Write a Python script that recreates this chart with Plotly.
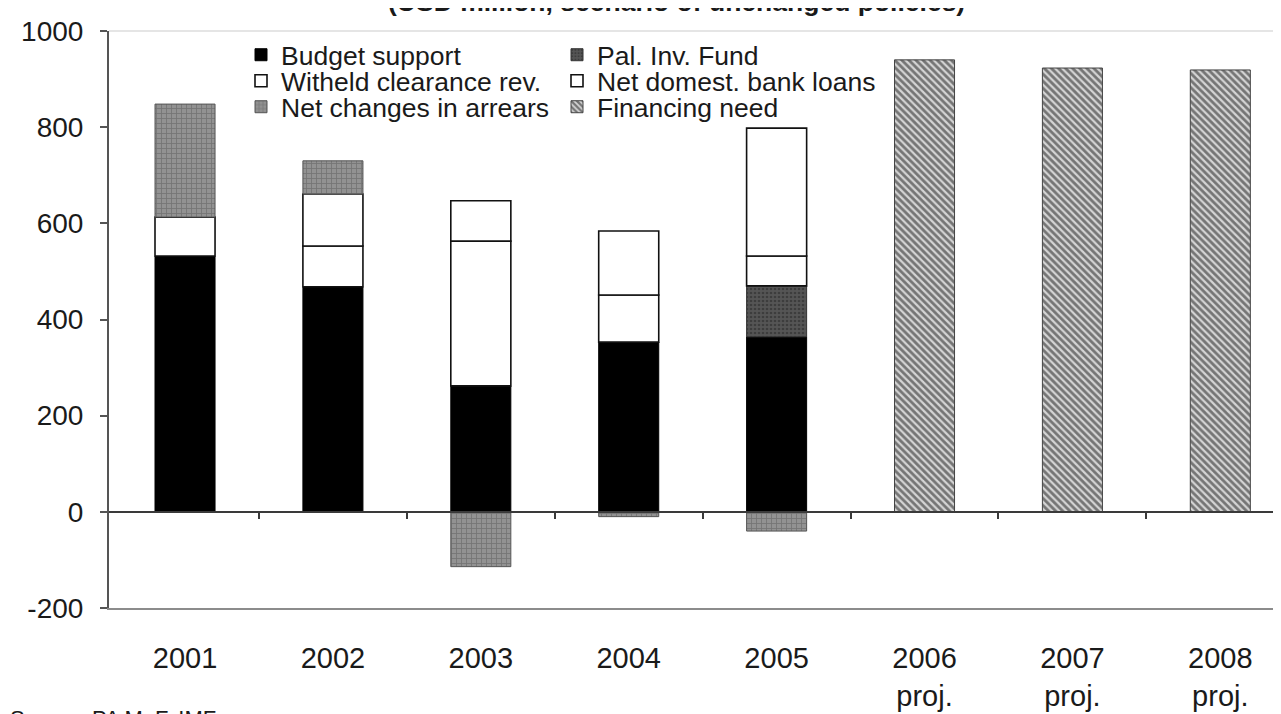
import plotly.graph_objects as go

# ---------------- data ----------------
years = ["2001", "2002", "2003", "2004", "2005", "2006", "2007", "2008"]
x_tick_labels = ["2001", "2002", "2003", "2004", "2005",
                 "2006<br>proj.", "2007<br>proj.", "2008<br>proj."]

budget_support = [532, 468, 262, 353, 364, None, None, None]
pal_inv_fund = [None, None, None, None, 106, None, None, None]
witheld_clearance = [81, 85, 301, 98, 62, None, None, None]
net_domest_loans = [None, 108, 84, 133, 266, None, None, None]
net_arrears = [235, 69, -114, -10, -40, None, None, None]
financing_need = [None, None, None, None, None, 940, 923, 919]

y_tick_values = [-200, 0, 200, 400, 600, 800, 1000]
y_tick_labels = ["-200", "0", "200", "400", "600", "800", "1000"]
boundary_ticks = [0.5, 1.5, 2.5, 3.5, 4.5, 5.5, 6.5]

title_text = "(USD million, scenario of unchanged policies)"
source_text = "Source: PA MoF, IMF"

FONT = "Liberation Sans, Arial, sans-serif"

fig = go.Figure()

series = [
    ("Budget support", budget_support, dict(color="#000000", line=dict(color="#000000", width=1)), "legend"),
    ("Pal. Inv. Fund", pal_inv_fund, dict(color="#555555",
                                          pattern=dict(shape=".", fgcolor="#262626", size=4, solidity=0.35),
                                          line=dict(color="#333333", width=1)), "legend4"),
    ("Witheld clearance rev.", witheld_clearance, dict(color="#ffffff", line=dict(color="#111111", width=1.6)), "legend2"),
    ("Net domest. bank loans", net_domest_loans, dict(color="#ffffff", line=dict(color="#111111", width=1.6)), "legend5"),
    ("Net changes in arrears", net_arrears, dict(color="#929292",
                                                 pattern=dict(shape="+", fgcolor="#555555", size=5, solidity=0.3),
                                                 line=dict(color="#555555", width=1)), "legend3"),
    ("Financing need", financing_need, dict(color="#d4d4d4",
                                            pattern=dict(shape="\\", fgcolor="#151515", size=5, solidity=0.55),
                                            line=dict(color="#444444", width=1)), "legend6"),
]

for name, vals, marker, leg in series:
    fig.add_trace(go.Bar(name=name, x=years, y=vals, marker=marker, legend=leg,
                         hoverinfo="name+y"))

# helper trace carrying the zero axis with category boundary ticks
fig.add_trace(go.Scatter(x=[0], y=[0], xaxis="x2", mode="markers",
                         marker=dict(opacity=0), showlegend=False, hoverinfo="skip"))

OFF = 8  # page body margin
W, H = 1281 - OFF, 714 - OFF
L, R, T = 109 - OFF, 0, 31 - OFF
B = H - (608 - OFF)
pw = W - L - R
ph = H - T - B
x_range = [-0.514, -0.514 + pw / 147.9]


def px_to_paper_x(px_page):
    return (px_page - OFF - L) / pw


def px_to_paper_y(py_page):
    return (H - B - (py_page - OFF)) / ph


legend_common = dict(font=dict(family=FONT, size=26.5, color="#1a1a1a"), bgcolor="rgba(0,0,0,0)",
                     borderwidth=0, xanchor="left", yanchor="middle", itemwidth=30,
                     tracegroupgap=0)
col_x = [px_to_paper_x(241), px_to_paper_x(557)]
row_y = [px_to_paper_y(55), px_to_paper_y(81), px_to_paper_y(107)]

layout_legends = {}
names = ["legend", "legend2", "legend3", "legend4", "legend5", "legend6"]
for i, nm in enumerate(names):
    col = i // 3
    row = i % 3
    layout_legends[nm] = dict(x=col_x[col], y=row_y[row], **legend_common)

fig.update_layout(
    width=W, height=H, autosize=False,
    margin=dict(l=L, r=R, t=T, b=B, pad=0),
    paper_bgcolor="white", plot_bgcolor="white",
    barmode="relative", bargap=0.594,
    font=dict(family=FONT, color="#1a1a1a"),
    showlegend=True,
    xaxis=dict(type="category", range=x_range, tickmode="array", tickvals=years,
               ticktext=x_tick_labels, ticks="", showline=True, linecolor="#8c8c8c",
               linewidth=2, showgrid=False, zeroline=False,
               tickfont=dict(family=FONT, size=29, color="#1a1a1a"),
               ticklabelstandoff=23),
    xaxis2=dict(overlaying="x", anchor="free", position=200 / 1200, range=x_range,
                type="linear", showline=True, linecolor="#3a3a3a", linewidth=1.6,
                ticks="outside", tickvals=boundary_ticks, ticklen=6, tickwidth=1.6,
                tickcolor="#3a3a3a", showticklabels=False, showgrid=False, zeroline=False),
    yaxis=dict(range=[-200, 1000], tickmode="array", tickvals=y_tick_values,
               ticktext=y_tick_labels, ticks="outside", ticklen=7, tickwidth=1.6,
               tickcolor="#555555", showline=True, linecolor="#555555", linewidth=2,
               showgrid=False, zeroline=False, ticklabelstandoff=11,
               tickfont=dict(family=FONT, size=28, color="#1a1a1a")),
    shapes=[dict(type="line", xref="paper", yref="paper", x0=0, x1=1, y0=1, y1=1,
                 line=dict(color="#dddddd", width=1.5))],
    annotations=[
        dict(text="<b>" + title_text + "</b>", xref="paper", yref="paper",
             x=px_to_paper_x(676), y=px_to_paper_y(19), xanchor="center", yanchor="bottom",
             showarrow=False, font=dict(family=FONT, size=26.5, color="#1a1a1a")),
        dict(text=source_text, xref="paper", yref="paper",
             x=px_to_paper_x(8), y=px_to_paper_y(704), xanchor="left", yanchor="top",
             showarrow=False, font=dict(family=FONT, size=22, color="#1a1a1a")),
    ],
    **layout_legends,
)

fig.write_html("out.html")
